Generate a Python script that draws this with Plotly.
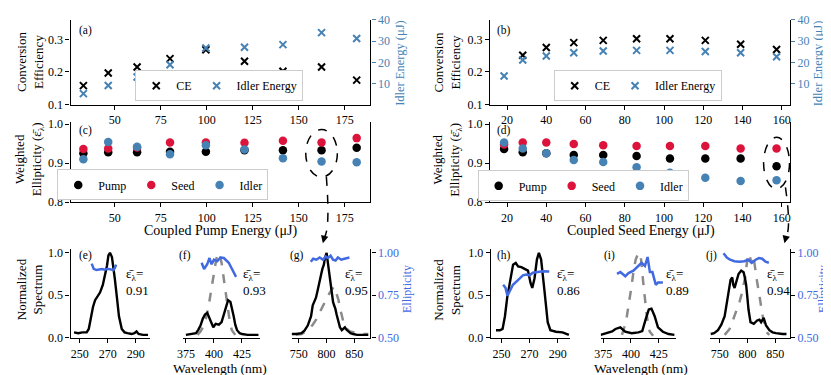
import plotly.graph_objects as go

W, H = 831, 375
FONT = "Liberation Serif, DejaVu Serif, serif"
STEEL = "#4682B4"
CRIMSON = "#DC143C"
ROYAL = "#4169E1"
GRAY = "#8a8a8a"

# ---- pump sweep, panels (a) and (c)
pump_energy = [32.9, 46.4, 62.1, 80.0, 99.5, 120.5, 141.4, 162.4, 181.5]
pump_ce = [0.158, 0.197, 0.215, 0.241, 0.268, 0.233, 0.202, 0.215, 0.175]
pump_idler_energy = [5.5, 9.3, 13.3, 19.0, 26.8, 27.2, 28.4, 34.0, 31.3]
pump_ell_pump = [0.925, 0.9275, 0.9275, 0.929, 0.929, 0.933, 0.933, 0.933, 0.939]
pump_ell_seed = [0.936, 0.9375, 0.940, 0.9525, 0.9525, 0.952, 0.957, 0.9525, 0.964]
pump_ell_idler = [0.910, 0.954, 0.942, 0.9225, 0.946, 0.935, 0.9125, 0.904, 0.902]

# ---- seed sweep, panels (b) and (d)
seed_energy = [18.5, 28, 40, 54, 69, 86, 103, 121, 139, 157.3]
seed_ce = [None, 0.251, 0.275, 0.290, 0.297, 0.302, 0.302, 0.297, 0.285, 0.269]
seed_idler_energy = [13.7, 21.2, 23.1, 24.6, 25.4, 25.7, 25.7, 25.2, 24.6, 22.7]
seed_ell_pump = [0.936, 0.9275, 0.925, 0.921, 0.921, 0.918, 0.912, 0.912, 0.912, 0.892]
seed_ell_seed = [0.9475, 0.9525, 0.9525, 0.949, 0.9455, 0.9435, 0.9435, 0.944, 0.9375, 0.9375]
seed_ell_idler = [0.9525, 0.9375, 0.925, 0.908, 0.9025, 0.889, 0.875, 0.8625, 0.854, 0.856]

# ---- spectra (e)-(g): pump sweep, highest point
e_wl = [246, 249, 252, 255, 256.5, 258, 259.5, 261, 263, 264.5, 266.5, 268, 269.5, 270.5,
        271.6, 273, 274, 275, 276.5, 278, 280, 282, 284, 287, 289, 290.5, 292, 295, 298.7]
e_val = [0.06, 0.05, 0.06, 0.06, 0.10, 0.25, 0.36, 0.44, 0.50, 0.53, 0.62, 0.72, 0.85, 0.97,
         1.0, 0.95, 0.85, 0.70, 0.48, 0.25, 0.10, 0.06, 0.05, 0.04, 0.05, 0.07, 0.04, 0.03, 0.03]
e_ell_wl = [258.6, 260, 262, 264, 266, 268, 270, 272, 274, 275, 276]
e_ell = [0.936, 0.905, 0.898, 0.902, 0.904, 0.900, 0.906, 0.902, 0.898, 0.91, 0.93]

f_wl = [375, 380, 384, 386, 388, 390, 392, 394, 396.5, 399.4, 401.5, 404.4, 406.8, 408.5, 410.3,
        412.6, 414.7, 416, 417.6, 419, 420.6, 423, 425, 430, 435, 439.7]
f_val = [0.03, 0.04, 0.05, 0.09, 0.14, 0.22, 0.27, 0.29, 0.21, 0.12, 0.16, 0.15, 0.18, 0.26, 0.36,
         0.44, 0.42, 0.35, 0.25, 0.15, 0.085, 0.05, 0.04, 0.03, 0.03, 0.03]
f_seed_wl = [385.3, 388, 391, 393.5, 395.6, 398, 400, 402, 403.5, 404.4, 405.5, 406.8, 408.5,
             410.3, 412, 413.2, 414.5, 416, 419]
f_seed = [0.03, 0.07, 0.14, 0.26, 0.40, 0.60, 0.77, 0.92, 0.99, 1.0, 0.96, 0.88, 0.72,
          0.55, 0.37, 0.25, 0.15, 0.085, 0.03]
f_ell_wl = [389, 391.2, 394, 396, 397.9, 400, 402.9, 405.8, 408.8, 411, 413.2, 416.1, 418, 419.7]
f_ell = [0.941, 0.904, 0.932, 0.969, 0.932, 0.959, 0.95, 0.972, 0.969, 0.955, 0.941, 0.904, 0.88, 0.858]

g_wl = [737, 745, 754.7, 760, 766, 770, 772, 775, 778, 780.8, 784, 786.6, 790, 792.4, 795, 797,
        800, 802.3, 805, 807, 809, 811.6, 813.5, 815.7, 818, 821.5, 824, 827.3, 830, 833, 836,
        839, 843, 847.7, 855, 868, 875]
g_val = [0.04, 0.04, 0.05, 0.08, 0.14, 0.2, 0.25, 0.38, 0.42, 0.47, 0.56, 0.66, 0.74, 0.81, 0.86,
         0.94, 1.0, 0.88, 0.74, 0.62, 0.5, 0.42, 0.38, 0.34, 0.27, 0.18, 0.12, 0.085, 0.1, 0.12,
         0.09, 0.07, 0.05, 0.04, 0.03, 0.03, 0.03]
g_seed_wl = [745, 755, 766, 775, 781, 786, 792, 797, 801, 805, 810, 813, 815.7, 818, 821.5, 824,
             827.3, 830, 833, 838, 842, 848, 853.5, 860, 868, 875]
g_seed = [0.03, 0.04, 0.085, 0.15, 0.21, 0.28, 0.36, 0.42, 0.46, 0.52, 0.57, 0.6, 0.56, 0.52,
          0.44, 0.35, 0.25, 0.19, 0.14, 0.09, 0.07, 0.06, 0.05, 0.045, 0.04, 0.04]
g_ell_wl = [771.5, 775.8, 781.6, 787.5, 793.6, 798.3, 802.5, 807.2, 811.5, 816.1, 820.4, 826.3,
            832.2, 841.1]
g_ell = [0.947, 0.965, 0.959, 0.972, 0.959, 0.978, 0.969, 0.983, 0.959, 0.954, 0.972, 0.959,
         0.965, 0.972]

# ---- spectra (h)-(j): seed sweep, highest point
h_wl = [246, 248.8, 250.7, 252.4, 254, 256.4, 258.2, 260.1, 261.8, 264.1, 266.5, 268.8, 270.7,
        271.9, 273.5, 275.2, 276.6, 278.2, 280.6, 282.9, 284.8, 288.8, 293.5, 298]
h_val = [0.085, 0.085, 0.10, 0.25, 0.47, 0.71, 0.86, 0.88, 0.84, 0.83, 0.81, 0.79, 0.64, 0.585,
         0.70, 0.92, 1.0, 0.92, 0.55, 0.18, 0.085, 0.067, 0.06, 0.03]
h_ell_wl = [251.1, 252.8, 254.2, 255.8, 258.1, 261.7, 265.2, 267.6, 269.9, 272.3, 275.8, 279.3, 284]
h_ell = [0.811, 0.793, 0.747, 0.774, 0.811, 0.839, 0.867, 0.872, 0.867, 0.882, 0.886, 0.891, 0.889]

i_wl = [372.6, 378.6, 383, 386, 390.4, 394.8, 400.7, 406.7, 410.2, 413.2, 416.1, 418.5, 421.4,
        424.4, 428.8, 434, 439.2]
i_val = [0.03, 0.05, 0.07, 0.10, 0.12, 0.067, 0.05, 0.06, 0.074, 0.21, 0.33, 0.34, 0.25, 0.12,
         0.067, 0.04, 0.03]
i_seed_wl = [391.9, 394, 396.3, 398.5, 400.7, 402.5, 404.3, 406.7, 409, 411, 412.5, 414, 415.5,
             417, 420]
i_seed = [0.03, 0.12, 0.25, 0.42, 0.62, 0.8, 0.92, 1.0, 0.94, 0.66, 0.45, 0.29, 0.15, 0.067, 0.02]
i_ell_wl = [387.4, 390.4, 394.9, 397.8, 402.2, 406.7, 409.6, 412.6, 415, 417.1, 419.4, 422.4,
            424.4, 428.8]
i_ell = [0.876, 0.886, 0.861, 0.880, 0.894, 0.922, 0.941, 0.922, 0.975, 0.886, 0.886, 0.811,
         0.824, 0.824]

j_wl = [734, 740, 747, 753, 759, 762, 765, 767.5, 769.6, 772.6, 774.5, 776.8, 779.8, 783.9, 788.7,
        793, 795.5, 797.6, 799.8, 801.8, 805.4, 808, 811.3, 817.3, 821.4, 824.4, 826.5, 829, 833.3,
        839.3, 845, 851, 863, 870]
j_val = [0.04, 0.05, 0.085, 0.15, 0.25, 0.36, 0.47, 0.6, 0.68, 0.71, 0.62, 0.585, 0.66, 0.75, 0.79,
         0.77, 0.7, 0.62, 0.47, 0.33, 0.18, 0.17, 0.16, 0.2, 0.21, 0.18, 0.2, 0.23, 0.14, 0.085,
         0.06, 0.05, 0.04, 0.04]
j_seed_wl = [759, 763, 767.9, 772, 776.8, 781, 785.7, 789, 793, 795.5, 797.6, 800.6, 803.6, 806.5,
             809.5, 812.5, 815.5, 818.5, 821.4, 824.5, 827.4, 830.5, 833.3, 836, 839.3]
j_seed = [0.03, 0.06, 0.10, 0.17, 0.25, 0.33, 0.42, 0.5, 0.62, 0.7, 0.81, 0.97, 0.99, 0.88, 0.96,
          0.88, 0.73, 0.6, 0.47, 0.36, 0.25, 0.16, 0.085, 0.05, 0.03]
j_ell_wl = [757, 762.9, 768.7, 776.5, 785.3, 794.1, 801.7, 807.6, 814.6, 820.6, 826.5, 832.3, 838.3]
j_ell = [0.997, 0.972, 0.959, 0.95, 0.947, 0.95, 0.959, 0.941, 0.959, 0.969, 0.965, 0.947, 0.941]

weighted_ell = ["0.91", "0.93", "0.95", "0.86", "0.89", "0.94"]
panel_labels = ["(a)", "(b)", "(c)", "(d)", "(e)", "(f)", "(g)", "(h)", "(i)", "(j)"]


def xd(p0, p1):
    return [p0 / W, p1 / W]


def yd(top, bot):
    return [1 - bot / H, 1 - top / H]


def px(x):
    return x / W


def py(y):
    return 1 - y / H


TICKSIZE = 12


def axis(**kw):
    d = dict(showline=True, linecolor="black", linewidth=1.2, ticks="outside", ticklen=4,
             tickwidth=1, tickcolor="black", showgrid=False, zeroline=False,
             tickfont=dict(size=TICKSIZE, color="black"), fixedrange=True)
    d.update(kw)
    return d


fig = go.Figure()
lay = {}

# ---------- (a) / (b): conversion efficiency + idler energy
top_x = [xd(57, 359.5), xd(480, 782.7)]
top_xr = [[25.9, 189], [11.3, 164.2]]
top_dt = [25, 20]
ce_sets = [(pump_energy, pump_ce, pump_idler_energy), (seed_energy, seed_ce, seed_idler_energy)]
for k in range(2):
    xa, ya, ya2 = k + 1, 2 * k + 1, 2 * k + 2
    lay[f"xaxis{xa}"] = axis(domain=top_x[k], range=top_xr[k], dtick=top_dt[k], anchor=f"y{ya}")
    lay[f"yaxis{ya}"] = axis(domain=yd(5, 93), range=[0.1, 0.36], dtick=0.1, tickformat=".1f",
                             anchor=f"x{xa}")
    lay[f"yaxis{ya2}"] = axis(range=[0.4, 40], tickvals=[10, 20, 30, 40], overlaying=f"y{ya}",
                              side="right", anchor=f"x{xa}", tickcolor=STEEL,
                              tickfont=dict(size=TICKSIZE, color=STEEL))
    en, ce, idl = ce_sets[k]
    leg = "legend" if k == 0 else "legend2"
    fig.add_trace(go.Scatter(x=en, y=ce, mode="markers", name="CE", legend=leg,
                             marker=dict(symbol="x-thin", size=7, color="black",
                                         line=dict(width=2, color="black")),
                             xaxis=f"x{xa}", yaxis=f"y{ya}"))
    fig.add_trace(go.Scatter(x=en, y=idl, mode="markers", name="Idler Energy", legend=leg,
                             marker=dict(symbol="x-thin", size=7, color=STEEL,
                                         line=dict(width=2, color=STEEL)),
                             xaxis=f"x{xa}", yaxis=f"y{ya2}"))

# ---------- (c) / (d): weighted ellipticity
ell_sets = [(pump_energy, pump_ell_pump, pump_ell_seed, pump_ell_idler),
            (seed_energy, seed_ell_pump, seed_ell_seed, seed_ell_idler)]
for k in range(2):
    xa, ya = k + 3, k + 5
    lay[f"xaxis{xa}"] = axis(domain=top_x[k], range=top_xr[k], dtick=top_dt[k], anchor=f"y{ya}")
    lay[f"yaxis{ya}"] = axis(domain=yd(111.3, 194.3), range=[0.8, 1.005], dtick=0.1,
                             tickformat=".1f", anchor=f"x{xa}", mirror=True)
    en, pp, ss, ii = ell_sets[k]
    leg = "legend3" if k == 0 else "legend4"
    for name, vals, col in [("Pump", pp, "black"), ("Seed", ss, CRIMSON), ("Idler", ii, STEEL)]:
        fig.add_trace(go.Scatter(x=en, y=vals, mode="markers", name=name, legend=leg,
                                 marker=dict(size=8.5, color=col),
                                 xaxis=f"x{xa}", yaxis=f"y{ya}"))

# ---------- (e)-(j): spectra
spec_x = [xd(57, 137), xd(170, 248), xd(280, 359.5),
          xd(480.7, 561), xd(591.7, 668), xd(701.7, 782.7)]
spec_xr = [[243.5, 300], [372, 441], [737, 879], [242.2, 299], [372.7, 441], [732.3, 876.5]]
spec_ticks = [[250, 270, 290], [375, 400, 425], [750, 800, 850]] * 2
spec_data = [
    (e_wl, e_val, None, None, e_ell_wl, e_ell),
    (f_wl, f_val, f_seed_wl, f_seed, f_ell_wl, f_ell),
    (g_wl, g_val, g_seed_wl, g_seed, g_ell_wl, g_ell),
    (h_wl, h_val, None, None, h_ell_wl, h_ell),
    (i_wl, i_val, i_seed_wl, i_seed, i_ell_wl, i_ell),
    (j_wl, j_val, j_seed_wl, j_seed, j_ell_wl, j_ell),
]
spec_y = yd(243.5, 335.8)
for k in range(6):
    xa, ya, ya2 = k + 5, 2 * k + 7, 2 * k + 8
    first, last = k % 3 == 0, k % 3 == 2
    lay[f"xaxis{xa}"] = axis(domain=spec_x[k], range=spec_xr[k], tickvals=spec_ticks[k],
                             anchor=f"y{ya}")
    lay[f"yaxis{ya}"] = axis(domain=spec_y, range=[-0.01, 1.04], tickvals=[0, 0.5, 1.0],
                             tickformat=".1f", anchor=f"x{xa}", visible=first)
    lay[f"yaxis{ya2}"] = axis(range=[0.495, 1.02], tickvals=[0.5, 0.75, 1.0], tickformat=".2f",
                              overlaying=f"y{ya}", side="right", anchor=f"x{xa}",
                              tickfont=dict(size=TICKSIZE, color=ROYAL), visible=last)
    wl, val, swl, sval, ewl, ell = spec_data[k]
    if swl is not None:
        fig.add_trace(go.Scatter(x=swl, y=sval, mode="lines", showlegend=False,
                                 line=dict(color=GRAY, width=2.5, dash="dash"),
                                 xaxis=f"x{xa}", yaxis=f"y{ya}"))
    fig.add_trace(go.Scatter(x=wl, y=val, mode="lines", showlegend=False,
                             line=dict(color="black", width=2.4),
                             xaxis=f"x{xa}", yaxis=f"y{ya}"))
    fig.add_trace(go.Scatter(x=ewl, y=ell, mode="lines", showlegend=False,
                             line=dict(color=ROYAL, width=2.5),
                             xaxis=f"x{xa}", yaxis=f"y{ya2}"))

# ---------- legends (centred where the reference boxes sit)
leg_common = dict(orientation="h", bgcolor="white", bordercolor="#cccccc", borderwidth=1,
                  font=dict(size=12), xanchor="center", yanchor="middle", itemwidth=30,
                  tracegroupgap=0)
lay["legend"] = dict(leg_common, x=px(207), y=py(73.5))
lay["legend2"] = dict(leg_common, x=px(629), y=py(73.5))
lay["legend3"] = dict(leg_common, x=px(150), y=py(176.5))
lay["legend4"] = dict(leg_common, x=px(574), y=py(177.5))

# ---------- text
ann = []


def text(x, y, s, size=13, color="black", angle=0, xanchor="center", yanchor="middle",
         align="center"):
    ann.append(dict(x=px(x), y=py(y), xref="paper", yref="paper", text=s, showarrow=False,
                    textangle=angle, xanchor=xanchor, yanchor=yanchor, align=align,
                    font=dict(size=size, color=color)))


for xc in (16, 437):
    text(xc, 49, "Conversion<br>Efficiency", angle=-90)
    text(xc, 150, "Weighted<br>Ellipticity (ε\u0304<sub>λ</sub>)", angle=-90)
    text(xc, 285, "Normalized<br>Spectrum", angle=-90)
text(389, 50, "Idler Energy (μJ)", size=12.5, color=STEEL, angle=-90)
text(811, 50, "Idler Energy (μJ)", size=12.5, color=STEEL, angle=-90)
text(397, 285, "Ellipticity", size=12, color=ROYAL, angle=-90)
text(816.5, 285, "Ellipticity", size=12, color=ROYAL, angle=-90)
text(208, 224, "Coupled Pump Energy (μJ)", size=14)
text(632, 224, "Coupled Seed Energy (μJ)", size=14)
text(208, 367, "Wavelength (nm)", size=13.5)
text(632, 367, "Wavelength (nm)", size=13.5)

label_pos = [(64, 16), (485, 16), (64, 120), (485, 120), (64, 250), (164, 250), (276, 250),
             (485, 250), (593, 250), (696, 250)]
for lab, (lx, ly) in zip(panel_labels, label_pos):
    text(lx, ly, lab, size=11.5, xanchor="left")

eps_x = [111, 229, 332, 546, 656, 757]
for ex, v in zip(eps_x, weighted_ell):
    text(ex, 259, "ε\u0304<sub>λ</sub>=<br>" + v, size=13, xanchor="left", yanchor="top",
         align="left")

# ---------- highlighted points: dashed ellipses + arrows to the spectra
shapes = [
    dict(type="circle", xref="x3", yref="y5", x0=pump_energy[7] - 8.6, x1=pump_energy[7] + 8.6,
         y0=0.864, y1=0.986, line=dict(color="black", width=1.5, dash="dash")),
    dict(type="circle", xref="x4", yref="y6", x0=seed_energy[9] - 6.6, x1=seed_energy[9] + 6.6,
         y0=0.834, y1=0.966, line=dict(color="black", width=1.5, dash="dash")),
]
for (x0, y0), (cx, cy), (x1, y1) in [((315, 168), (319, 222), (313, 231)),
                                     ((778, 179), (784, 222), (778.5, 231))]:
    shapes.append(dict(type="path", xref="paper", yref="paper",
                       path=f"M {px(x0)},{py(y0)} Q {px(cx)},{py(cy)} {px(x1)},{py(y1)}",
                       line=dict(color="black", width=1.5, dash="dash")))
for tx, ty in [(311.5, 237), (777, 237)]:
    ann.append(dict(x=px(tx), y=py(ty), xref="paper", yref="paper", text="", showarrow=True,
                    ax=2, ay=-8, arrowhead=2, arrowsize=1, arrowwidth=1.5, arrowcolor="black",
                    standoff=0))

fig.update_layout(
    width=W, height=H, margin=dict(l=0, r=0, t=0, b=0),
    plot_bgcolor="white", paper_bgcolor="white",
    font=dict(family=FONT, size=12, color="black"),
    annotations=ann, shapes=shapes, **lay,
)

fig.write_html("out.html")
